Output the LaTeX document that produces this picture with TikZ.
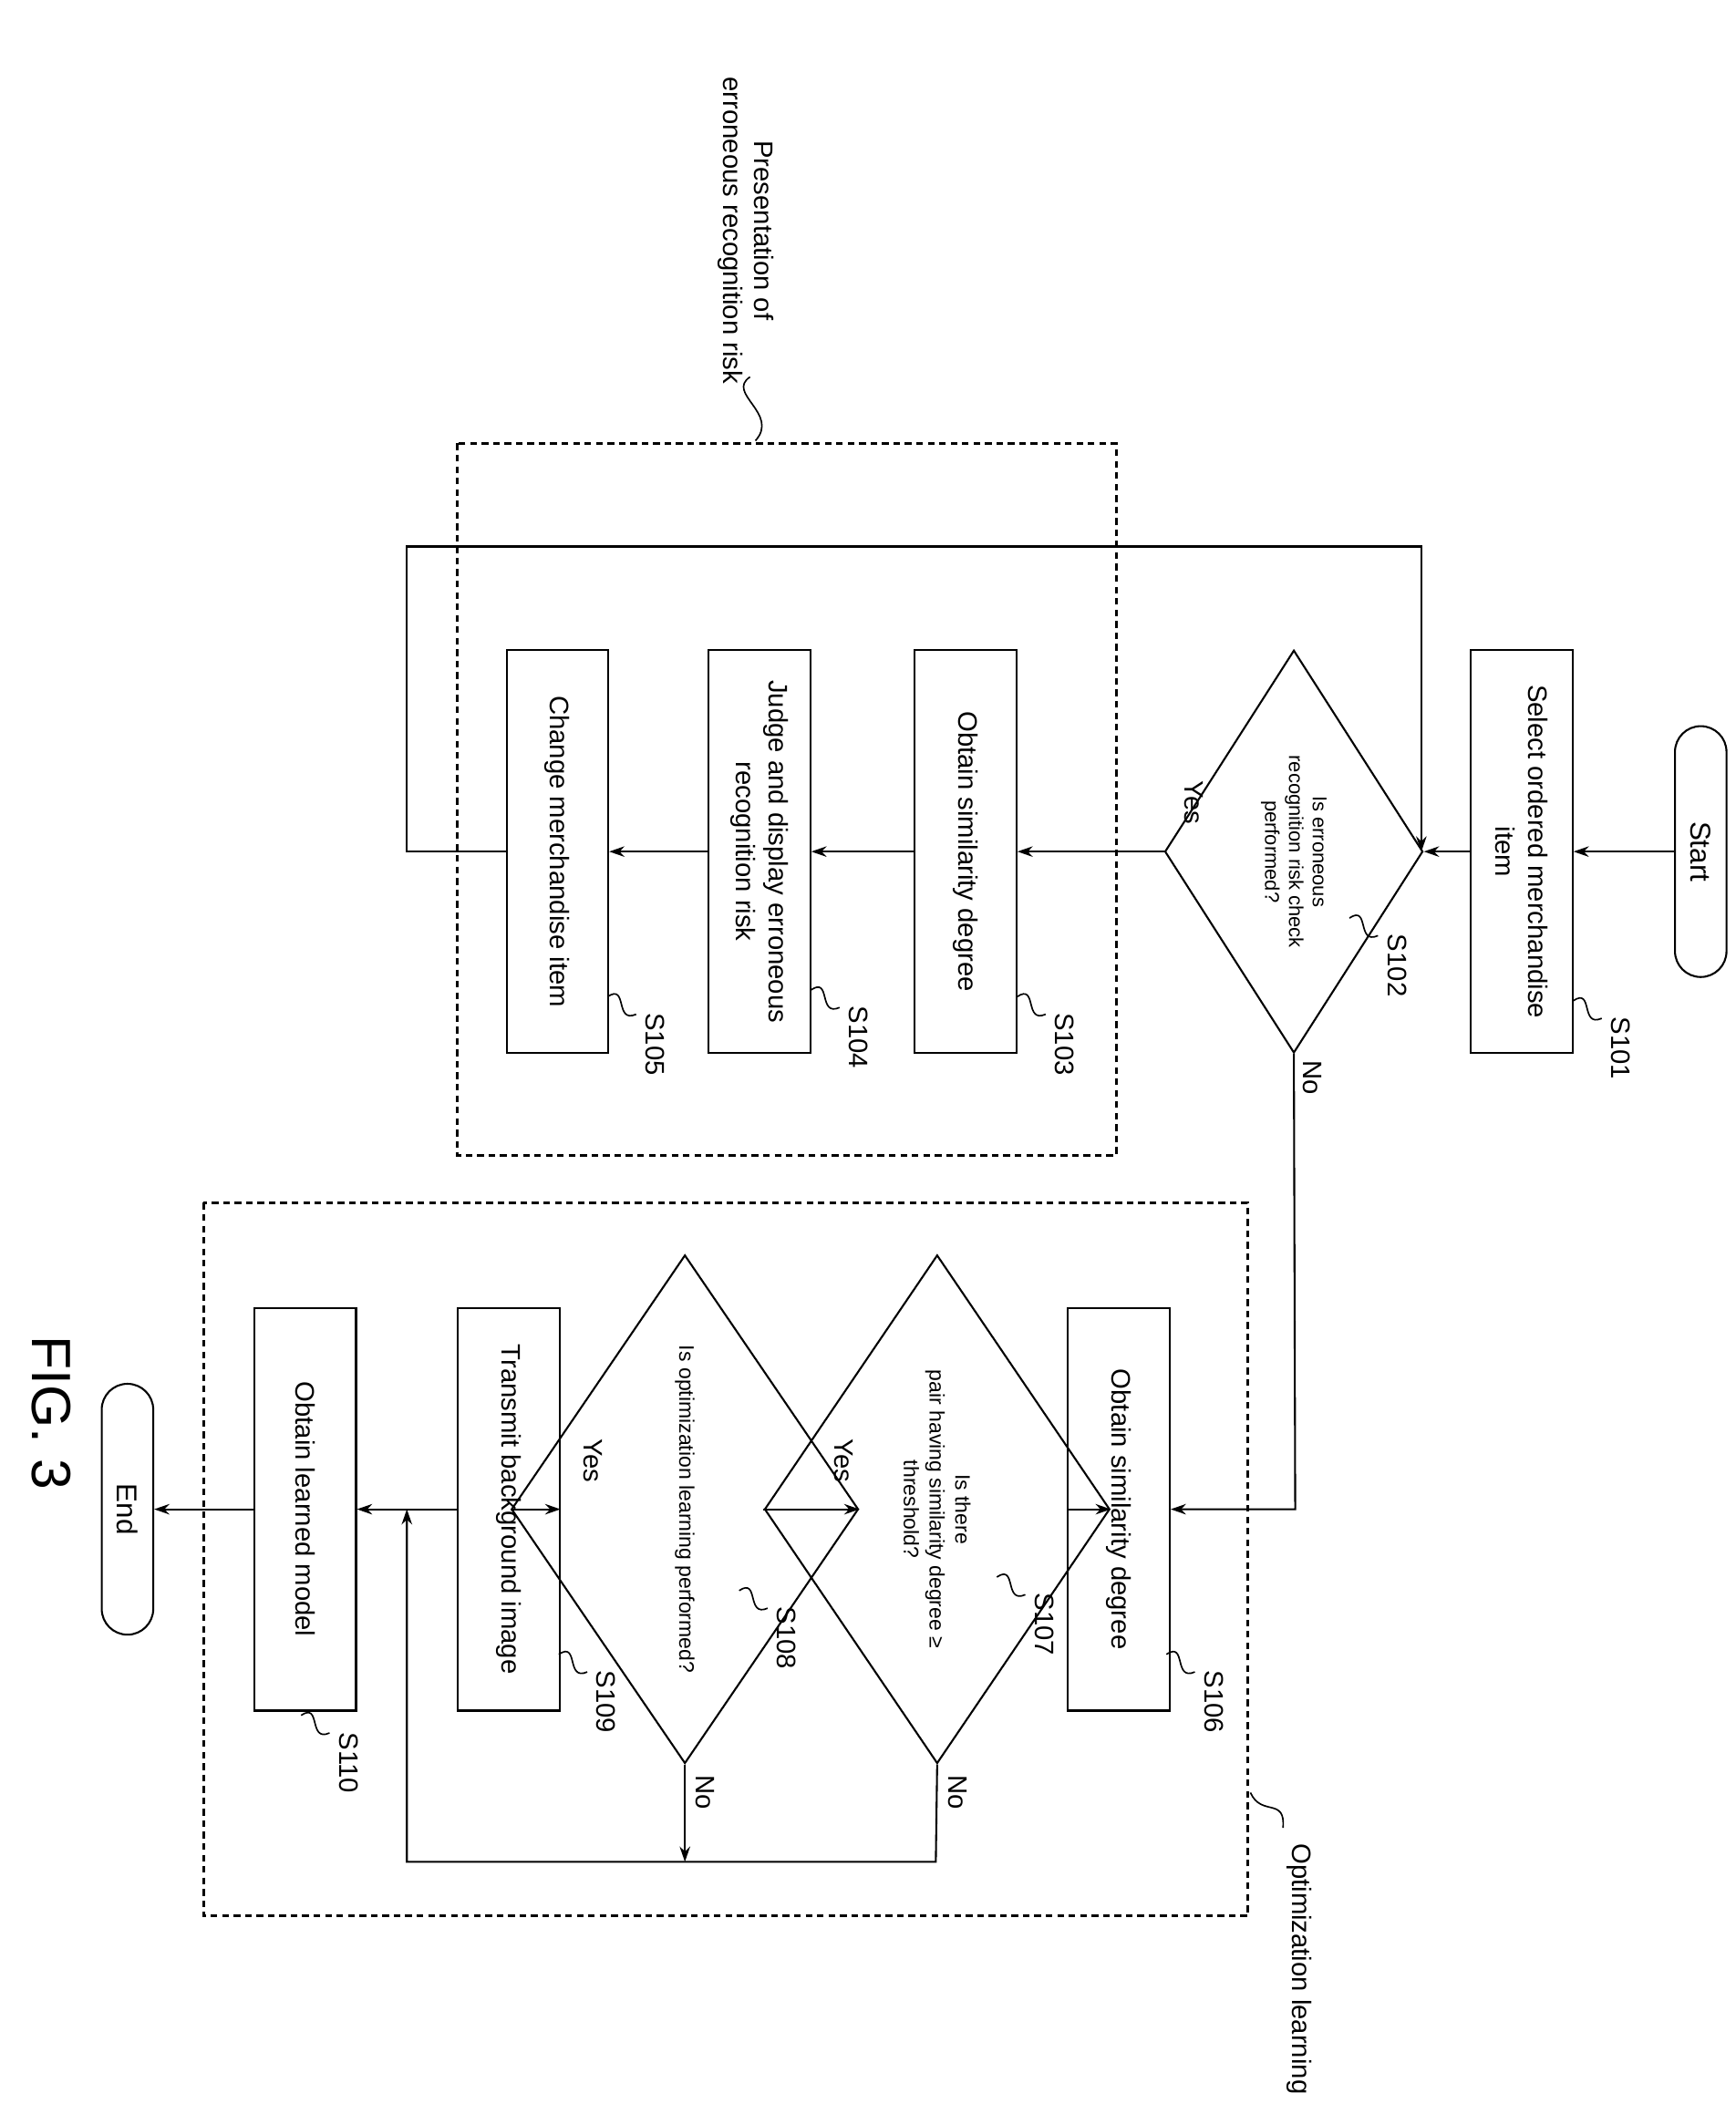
\documentclass[tikz,border=0pt]{standalone}
\usepackage{fontspec}
\setmainfont{Liberation Sans}
\usetikzlibrary{shapes.geometric,arrows.meta}
\begin{document}
\begin{tikzpicture}[x=0.05cm,y=-0.05cm,
  lw/.style={line width=2pt},
  box/.style={draw,lw,rectangle,rotate=-90,minimum width=14.85cm,minimum height=3.75cm,inner sep=2pt,align=center,font=\fontsize{28}{34}\selectfont},
  term/.style={draw,lw,rectangle,rounded corners=0.95cm,rotate=-90,minimum width=9.25cm,minimum height=1.9cm,font=\fontsize{30}{34}\selectfont},
  dia/.style={draw,lw,diamond,rotate=-90,inner sep=0pt,align=center,font=\fontsize{21}{25}\selectfont},
  lab/.style={rotate=-90,font=\fontsize{28}{32}\selectfont,align=center},
  arr/.style={lw,-{Stealth[length=16pt,width=11pt]}},
  dbox/.style={line width=3pt,dash pattern=on 7pt off 5pt},
  sq/.style={line width=1.6pt}]
\useasboundingbox (0,0) rectangle (1280,1559);
\node[term] (start) at (1254,628) {Start};
\node[box] (s101) at (1122,628) {Select ordered merchandise\\item};
\node[dia,minimum width=14.85cm,minimum height=5.65cm] (s102) at (954,628) {Is erroneous\\recognition risk check\\performed?};
\node[box] (s103) at (712,628) {Obtain similarity degree};
\node[box] (s104) at (560,628) {Judge and display erroneous\\recognition risk};
\node[box] (s105) at (411,628) {Change merchandise item};
\node[box] (s106) at (825,1113) {Obtain similarity degree};
\node[dia,minimum width=18.75cm,minimum height=5.65cm,font=\fontsize{22}{27}\selectfont] (s107) at (691,1113) {Is there\\pair having similarity degree ≥\\threshold?};
\node[dia,minimum width=18.75cm,minimum height=5.5cm,font=\fontsize{22}{27}\selectfont] (s108) at (505,1113) {Is optimization learning performed?};
\node[box] (s109) at (375,1113) {Transmit background image};
\node[box] (s110) at (225,1113) {Obtain learned model};
\node[term] (end) at (94,1113) {End};
\coordinate (j1) at (1048,628);
\coordinate (j2) at (300,1113);
\coordinate (n8) at (505,1373);
% connectors
\draw[arr] (start.south) -- (s101.north);
\draw[arr] (s101.south) -- (s102.north);
\draw[arr] (s102.south) -- (s103.north);
\draw[arr] (s103.south) -- (s104.north);
\draw[arr] (s104.south) -- (s105.north);
\draw[arr] (s105.south) -- (300,628) -- (300,403) -- (1048,403) -- (j1);
\draw[arr] (s102.east) -- (955,1113) -- (s106.north);
\draw[arr] (s106.south) -- (s107.north);
\draw[arr] (s107.south) -- (s108.north);
\draw[arr] (s108.south) -- (s109.north);
\draw[arr] (s109.south) -- (s110.north);
\draw[arr] (s110.south) -- (end.north);
\draw[arr] (s107.east) -- (690,1373) -- (300,1373) -- (j2);
\draw[arr] (s108.east) -- (n8);
% yes/no
\node[lab] (y1) at (880,592) {Yes};
\node[lab] (y2) at (622,1077) {Yes};
\node[lab] (y3) at (437,1077) {Yes};
\node[lab] (no1) at (968,795) {No};
\node[lab] (no2) at (706,1322) {No};
\node[lab] (no3) at (520,1322) {No};
% dashed groups
\draw[dbox] (337,327) rectangle (823,852);
\draw[dbox] (150,887) rectangle (920,1413);
\node[lab] (g1) at (550,170) {Presentation of\\erroneous recognition risk};
\node[lab] (g2) at (958,1452) {Optimization learning};
\draw[sq] (553,278) .. controls (535,290) and (575,305) .. (557,325);
\draw[sq] (922,1322) .. controls (930,1340) and (948,1325) .. (946,1348);
% step labels
\foreach \nm/\x/\y in {S101/1195/773,S102/1030/712,S103/785/770,S104/633/765,S105/483/770,S106/895/1255,S107/770/1198,S108/580/1208,S109/447/1255,S110/257/1300}{
  \node[lab] (l\nm) at (\x,\y) {\nm};
  \draw[sq] (\x-35,\y-35) .. controls (\x-20,\y-45) and (\x-30,\y-15) .. (\x-14,\y-22);
}
\node[rotate=-90,font=\fontsize{58}{60}\selectfont] (fig) at (38,1042) {FIG. 3};
\end{tikzpicture}
\end{document}
